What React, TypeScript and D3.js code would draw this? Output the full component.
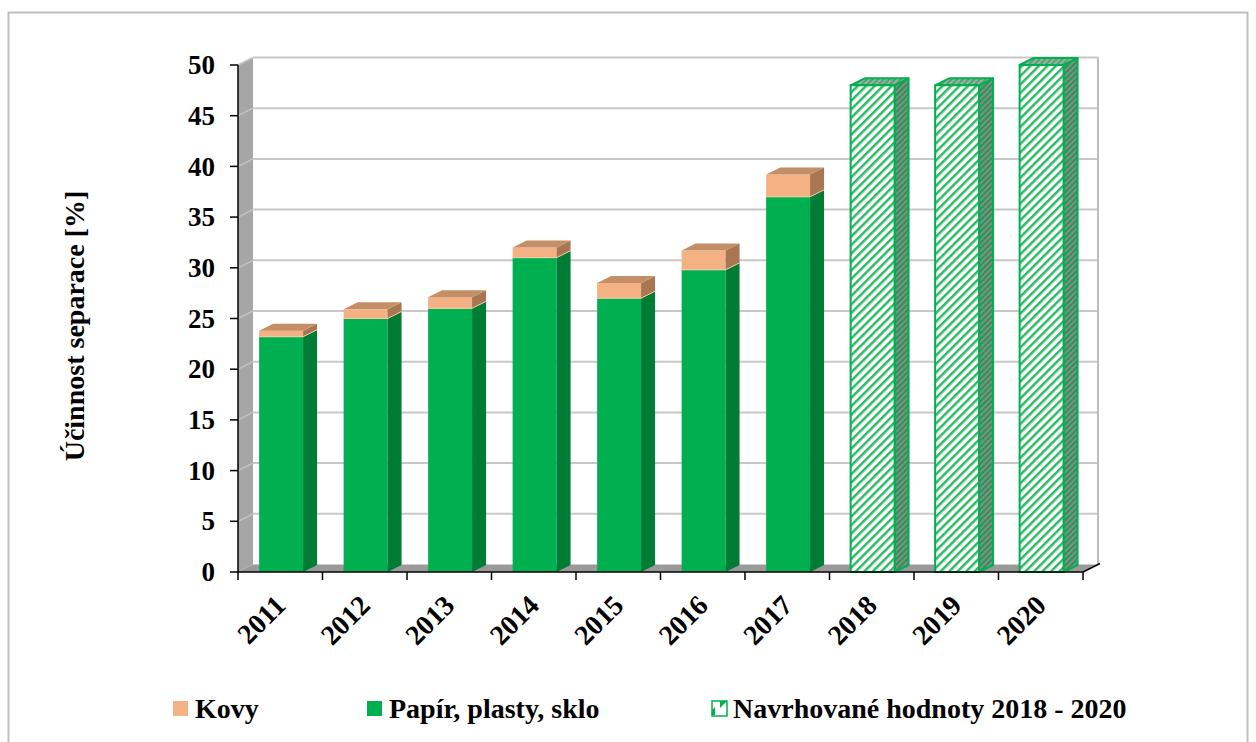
import React from 'react';
import * as d3 from 'd3';

// data
const years = ['2011', '2012', '2013', '2014', '2015', '2016', '2017', '2018', '2019', '2020'];
const paperPlasticGlass: (number | null)[] = [23.2, 25.0, 26.0, 31.0, 27.0, 29.8, 37.0, null, null, null];
const metals: (number | null)[] = [0.6, 0.9, 1.1, 1.0, 1.5, 1.9, 2.2, null, null, null];
const proposed: (number | null)[] = [null, null, null, null, null, null, null, 48, 48, 50];
const yTicks = [0, 5, 10, 15, 20, 25, 30, 35, 40, 45, 50];

const GREEN = '#00b050';
const GREEN_SIDE = '#007c35';
const KOVY = '#f4b183';
const KOVY_TOP = '#c48f66';
const KOVY_SIDE = '#a87752';
const FONT = "'Liberation Serif', 'Times New Roman', serif";

const App = () => {
  const left = 238;
  const right = 1083;
  const top = 65;
  const bottom = 572;
  const wdx = 15; // wall depth
  const wdy = -7.5;
  const bdx = 14; // bar depth
  const bdy = -7;

  const x = d3.scaleBand().domain(years).range([left, right]).padding(0);
  const y = d3.scaleLinear().domain([0, 50]).range([bottom, top]);
  const bw = x.bandwidth();
  const barOff = bw * 0.25;
  const barW = bw * 0.52;

  const poly = (pts: [number, number][]) => pts.map(p => p.join(',')).join(' ');

  const side = (x1: number, yb: number, yt: number) =>
    poly([[x1, yb], [x1 + bdx, yb + bdy], [x1 + bdx, yt + bdy], [x1, yt]]);
  const topFace = (x0: number, x1: number, yt: number) =>
    poly([[x0, yt], [x1, yt], [x1 + bdx, yt + bdy], [x0 + bdx, yt + bdy]]);

  return (
    <svg width={1256} height={742} style={{ position: 'absolute', left: 0, top: 0, fontFamily: FONT }}
      fontWeight="bold">
      <defs>
        <pattern id="hatchFront" patternUnits="userSpaceOnUse" width={6} height={6}
          patternTransform="rotate(45)">
          <rect width={6} height={6} fill="#ffffff" />
          <rect width={2.5} height={6} fill="#2db865" />
        </pattern>
        <pattern id="hatchSide" patternUnits="userSpaceOnUse" width={4} height={4}
          patternTransform="rotate(45)">
          <rect width={4} height={4} fill="#8a8a8a" />
          <rect width={2} height={4} fill="#1f9a52" />
        </pattern>
        <pattern id="hatchTop" patternUnits="userSpaceOnUse" width={4} height={4}
          patternTransform="rotate(45)">
          <rect width={4} height={4} fill="#a8a8a8" />
          <rect width={2} height={4} fill="#3fae6c" />
        </pattern>
        <pattern id="hatchLegend" patternUnits="userSpaceOnUse" width={20} height={20}>
          <rect width={20} height={20} fill="#ffffff" />
          <polygon points="0,0 8,0 0,8" fill={GREEN} />
          <polygon points="15,15 7,15 15,7" fill={GREEN} />
        </pattern>
      </defs>

      <rect x={8.5} y={12.5} width={1239} height={800} fill="#fff" stroke="#bfbfbf" strokeWidth={2} />

      {/* back wall */}
      <rect x={left + wdx} y={top + wdy} width={right - left} height={bottom - top} fill="#fff" />
      {/* left wall */}
      <polygon points={poly([[left, bottom], [left + wdx, bottom + wdy], [left + wdx, top + wdy], [left, top]])}
        fill="#a6a6a6" />
      {/* floor */}
      <polygon points={poly([[left, bottom], [right, bottom], [right + wdx, bottom + wdy], [left + wdx, bottom + wdy]])}
        fill="#9a9a9a" />

      {/* gridlines */}
      {yTicks.filter(t => t > 0).map(t => (
        <g key={t}>
          <line x1={left + wdx} x2={right + wdx} y1={y(t) + wdy} y2={y(t) + wdy} stroke="#c8c8c8" strokeWidth={2} />
          <line x1={left} x2={left + wdx} y1={y(t)} y2={y(t) + wdy} stroke="#c4c4c4" strokeWidth={1.5} />
        </g>
      ))}
      <line x1={right + wdx} x2={right + wdx} y1={top + wdy} y2={bottom + wdy} stroke="#bdbdbd" strokeWidth={2} />

      {/* bars */}
      {years.map((yr, i) => {
        const x0 = (x(yr) as number) + barOff;
        const x1 = x0 + barW;
        const g = paperPlasticGlass[i];
        const k = metals[i];
        const p = proposed[i];
        if (g != null && k != null) {
          return (
            <g key={yr}>
              <rect x={x0} y={y(g)} width={barW} height={y(0) - y(g)} fill={GREEN} />
              <polygon points={side(x1, y(0), y(g))} fill={GREEN_SIDE} />
              <rect x={x0} y={y(g + k)} width={barW} height={y(g) - y(g + k)} fill={KOVY} />
              <polygon points={side(x1, y(g), y(g + k))} fill={KOVY_SIDE} />
              <polygon points={topFace(x0, x1, y(g + k))} fill={KOVY_TOP} />
              <line x1={x0} x2={x1} y1={y(g)} y2={y(g)} stroke="#f7c9a4" strokeWidth={1} />
              <line x1={x1} x2={x1 + bdx} y1={y(g)} y2={y(g) + bdy} stroke="#f7c9a4" strokeWidth={1} />
            </g>
          );
        }
        if (p != null) {
          return (
            <g key={yr} stroke={GREEN} strokeWidth={2} strokeLinejoin="round">
              <polygon points={side(x1, y(0), y(p))} fill="url(#hatchSide)" />
              <polygon points={topFace(x0, x1, y(p))} fill="url(#hatchTop)" />
              <rect x={x0} y={y(p)} width={barW} height={y(0) - y(p)} fill="url(#hatchFront)" />
            </g>
          );
        }
        return null;
      })}

      {/* y axis */}
      <line x1={left} x2={left} y1={top} y2={bottom} stroke="#000" strokeWidth={1.5} />
      {yTicks.map(t => (
        <g key={t}>
          <line x1={left - 8} x2={left} y1={y(t)} y2={y(t)} stroke="#000" strokeWidth={1.5} />
          <text x={left - 23} y={y(t)} dy="0.34em" textAnchor="end" fontSize={27}>{t}</text>
        </g>
      ))}

      {/* x axis */}
      <line x1={left} x2={right} y1={bottom} y2={bottom} stroke="#000" strokeWidth={1.5} />
      <line x1={right} x2={right + wdx + 2} y1={bottom} y2={bottom + wdy - 1} stroke="#000" strokeWidth={1.5} />
      {[...years.map(yr => x(yr) as number), right].map((tx, i) => (
        <line key={i} x1={tx} x2={tx} y1={bottom} y2={bottom + 8} stroke="#000" strokeWidth={1.5} />
      ))}
      {years.map(yr => {
        const cx = (x(yr) as number) + bw / 2;
        const lx = cx + 7;
        const ly = 607;
        return (
          <text key={yr} x={lx} y={ly} textAnchor="end" fontSize={28}
            transform={`rotate(-45 ${lx} ${ly})`}>{yr}</text>
        );
      })}

      {/* axis title */}
      <text x={0} y={0} textAnchor="middle" fontSize={28}
        transform="translate(84 326) rotate(-90)">Účinnost separace [%]</text>

      {/* legend */}
      <g fontSize={28}>
        <rect x={173} y={701} width={15} height={15} fill={KOVY} />
        <text x={195} y={718}>Kovy</text>
        <rect x={367} y={701} width={15} height={15} fill={GREEN} />
        <text x={389} y={718}>Papír, plasty, sklo</text>
        <rect x={712} y={701} width={15} height={15} fill="url(#hatchLegend)" stroke={GREEN} strokeWidth={1.5} />
        <text x={733} y={718}>Navrhované hodnoty 2018 - 2020</text>
      </g>
    </svg>
  );
};

export default App;
